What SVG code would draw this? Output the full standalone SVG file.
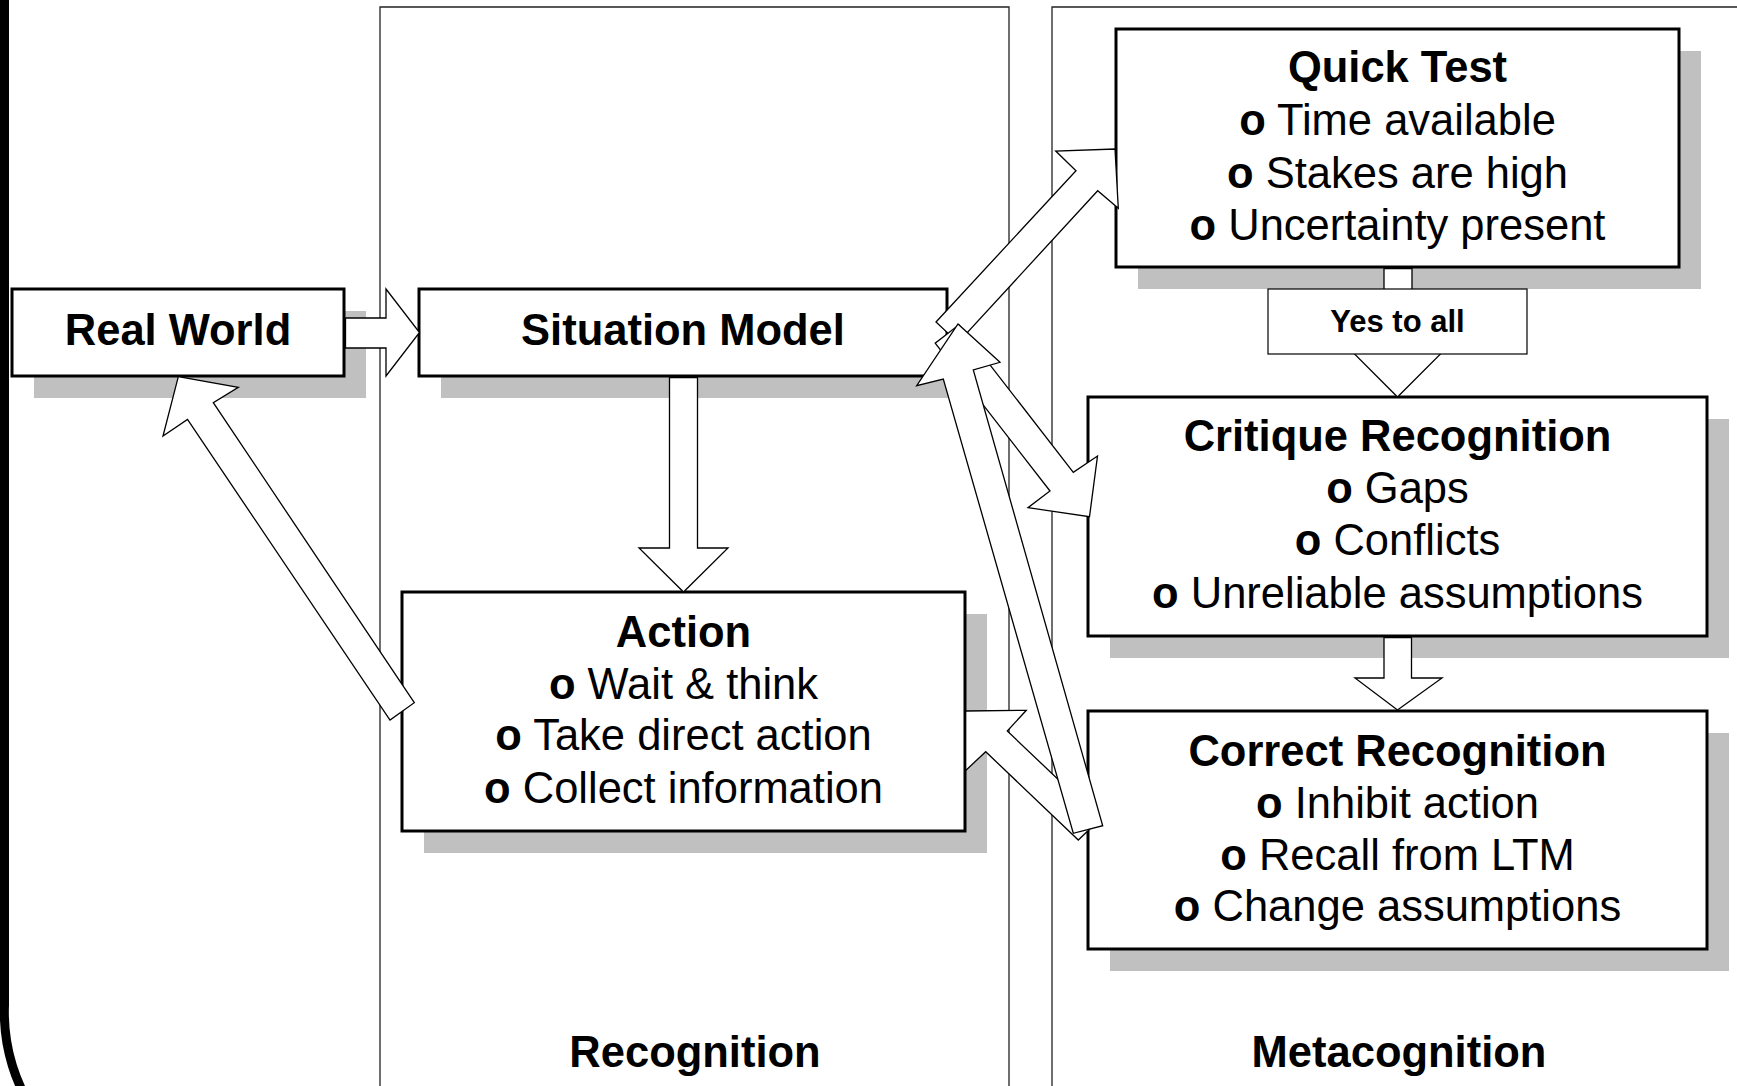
<svg xmlns="http://www.w3.org/2000/svg" width="1737" height="1086" viewBox="0 0 1737 1086">
<style>
.box{fill:#fff;stroke:#000;stroke-width:3}
.lbl{fill:#fff;stroke:#000;stroke-width:1.2}
.sh{fill:#c0c0c0}
.ar{fill:#fff;stroke:#000;stroke-width:1.3;stroke-linejoin:miter}
.col{fill:none;stroke:#222;stroke-width:1.3}
.t{font-family:"Liberation Sans",Arial,sans-serif;font-size:43.5px;text-anchor:middle;fill:#000}
.b{font-weight:bold}
.y{font-family:"Liberation Sans",Arial,sans-serif;font-size:31px;font-weight:bold;text-anchor:middle;fill:#000}
</style>
<rect width="1737" height="1086" fill="#fff"/>
<g id="frame">
<path d="M4.5,-10 V1005 A180,180 0 0 0 40,1120" fill="none" stroke="#000" stroke-width="9"/>
</g>
<g id="columns">
<path class="col" d="M380,1090 V7 H1009 V1090"/>
<path class="col" d="M1052,1090 V7 H1740"/>
<text class="t b" x="695" y="1067">Recognition</text>
<text class="t b" x="1399" y="1067">Metacognition</text>
</g>
<g id="real-world">
<rect class="sh" x="34" y="311" width="332" height="87"/>
<rect class="box" x="12" y="289" width="332" height="87"/>
<text class="t b" x="178" y="345">Real World</text>
</g>
<g id="situation-model">
<rect class="sh" x="441" y="311" width="528" height="87"/>
<rect class="box" x="419" y="289" width="528" height="87"/>
<text class="t b" x="683" y="345">Situation Model</text>
</g>
<g id="action">
<rect class="sh" x="424" y="614" width="563" height="239"/>
<rect class="box" x="402" y="592" width="563" height="239"/>
<text class="t b" x="683.5" y="647">Action</text>
<text class="t" x="683.5" y="699"><tspan class="b">o</tspan> Wait &amp; think</text>
<text class="t" x="683.5" y="750"><tspan class="b">o</tspan> Take direct action</text>
<text class="t" x="683.5" y="803"><tspan class="b">o</tspan> Collect information</text>
</g>
<g id="quick-test">
<rect class="sh" x="1138" y="51" width="563" height="238"/>
<rect class="box" x="1116" y="29" width="563" height="238"/>
<text class="t b" x="1397.5" y="82">Quick Test</text>
<text class="t" x="1397.5" y="135"><tspan class="b">o</tspan> Time available</text>
<text class="t" x="1397.5" y="188"><tspan class="b">o</tspan> Stakes are high</text>
<text class="t" x="1397.5" y="240"><tspan class="b">o</tspan> Uncertainty present</text>
</g>
<g id="critique-recognition">
<rect class="sh" x="1110" y="419" width="619" height="239"/>
<rect class="box" x="1088" y="397" width="619" height="239"/>
<text class="t b" x="1397.5" y="451">Critique Recognition</text>
<text class="t" x="1397.5" y="503"><tspan class="b">o</tspan> Gaps</text>
<text class="t" x="1397.5" y="555"><tspan class="b">o</tspan> Conflicts</text>
<text class="t" x="1397.5" y="608"><tspan class="b">o</tspan> Unreliable assumptions</text>
</g>
<g id="correct-recognition">
<rect class="sh" x="1110" y="733" width="619" height="238"/>
<rect class="box" x="1088" y="711" width="619" height="238"/>
<text class="t b" x="1397.5" y="766">Correct Recognition</text>
<text class="t" x="1397.5" y="818"><tspan class="b">o</tspan> Inhibit action</text>
<text class="t" x="1397.5" y="870"><tspan class="b">o</tspan> Recall from LTM</text>
<text class="t" x="1397.5" y="921"><tspan class="b">o</tspan> Change assumptions</text>
</g>
<g id="connectors">
<polygon class="ar" points="345.5,318 386,318 386,289 419.5,332.5 386,376 386,348 345.5,348"/>
<polygon class="ar" points="669.5,377.5 697.5,377.5 697.5,548 728,548 683.5,592 639,548 669.5,548"/>
<polygon class="ar" points="1384,268.5 1412,268.5 1412,353 1441.5,353 1397.5,397 1353.5,353 1384,353"/>
<polygon class="ar" points="1384,637.5 1411.5,637.5 1411.5,678 1442,678 1397.5,710 1355,678 1384,678"/>
<polygon class="ar" points="178.3,376.7 238.3,387.3 213.3,402.7 414.3,702.7 390,720 187.5,419.5 163,436"/>
<polygon class="ar" points="936,322 1076,170.7 1055.7,151 1115,149 1118.3,208.3 1097.7,190.7 958,342.7"/>
<polygon class="ar" points="958.9,324.8 1073.3,472.3 1097.5,456 1089.5,516.7 1028,507.7 1050,491 935.2,343.2"/>
<polygon class="ar" points="965.7,711 1026.3,710.3 1007.3,731 1100,819.3 1078.3,840 985.7,751.7 965.7,770.5"/>
<polygon class="ar" points="958,324 1000,362.3 973.3,370 1102.7,825.7 1073.3,833.3 943.3,379 916.7,385.7"/>
</g>
<g id="label-yes-to-all">
<rect class="lbl" x="1268" y="289" width="259" height="65"/>
<text class="y" x="1397.5" y="332">Yes to all</text>
</g>
</svg>
